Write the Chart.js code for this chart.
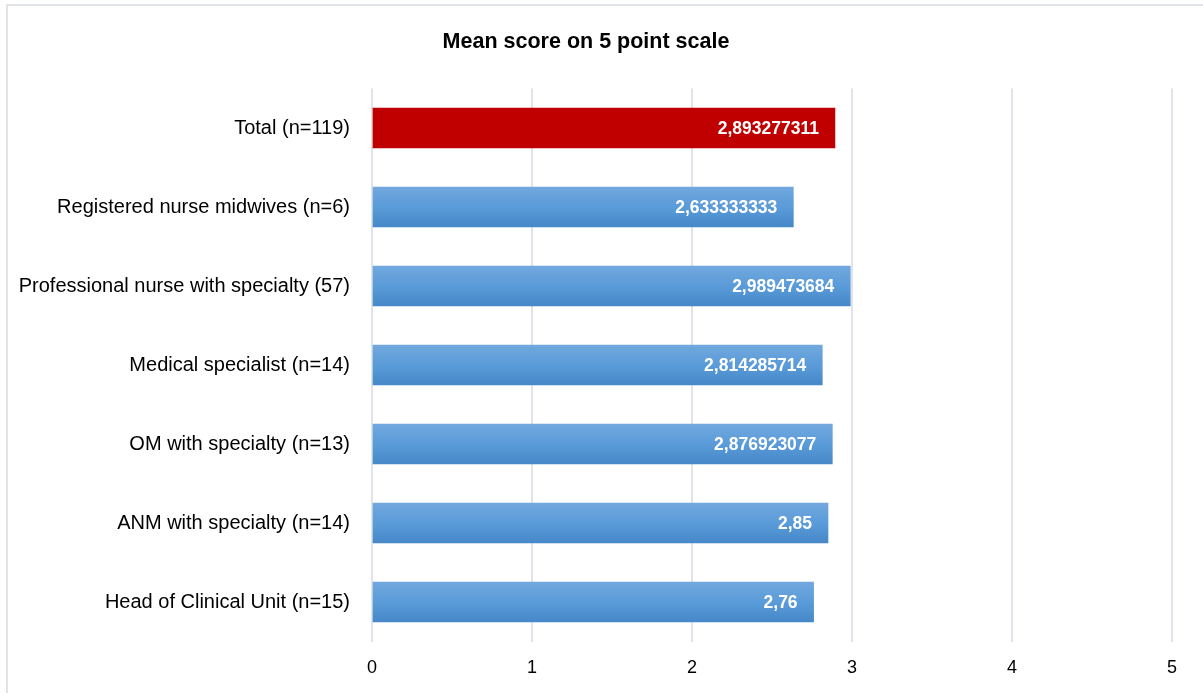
<!DOCTYPE html>
<html>
<head>
<meta charset="utf-8">
<title>Mean score on 5 point scale</title>
<script src="https://cdn.jsdelivr.net/npm/chart.js@4/dist/chart.umd.min.js"></script>
<style>
  html, body { margin: 0; padding: 0; background: #ffffff; }
  #wrap { position: relative; width: 1203px; height: 693px; }
</style>
</head>
<body>
<div id="wrap"><canvas id="chart" width="1203" height="693"></canvas></div>
<script>
// Groups of respondents, top to bottom
const categories = [
  'Total (n=119)',
  'Registered nurse midwives (n=6)',
  'Professional nurse with specialty (57)',
  'Medical specialist (n=14)',
  'OM with specialty (n=13)',
  'ANM with specialty (n=14)',
  'Head of Clinical Unit (n=15)'
];

// Mean score per group
const meanScores = [2.893277311, 2.633333333, 2.989473684, 2.814285714, 2.876923077, 2.85, 2.76];

// Axis ticks
const xTicks = [0, 1, 2, 3, 4, 5];

const FONT = "'Liberation Sans', Arial, sans-serif";

const formatValue = v => String(v).replace('.', ',');

// Frame lines at the top and left edge
const framePlugin = {
  id: 'frame',
  beforeDraw(chart) {
    const ctx = chart.ctx;
    ctx.save();
    ctx.fillStyle = '#e1e4e9';
    ctx.fillRect(6, 4, chart.width - 6, 2);
    ctx.fillRect(6, 4, 2, chart.height - 4);
    ctx.restore();
  }
};

// Vertical gradient for the blue bars; the total bar stays solid red
const gradientPlugin = {
  id: 'barGradient',
  beforeDatasetsDraw(chart) {
    const ctx = chart.ctx;
    const meta = chart.getDatasetMeta(0);
    meta.data.forEach((bar, i) => {
      if (i === 0) return;
      const h = bar.height;
      const g = ctx.createLinearGradient(0, bar.y - h / 2, 0, bar.y + h / 2);
      g.addColorStop(0, '#72a8de');
      g.addColorStop(0.5, '#5a9bd9');
      g.addColorStop(1, '#4688c8');
      bar.options.backgroundColor = g;
    });
  }
};

// Value labels inside the end of each bar
const valueLabelPlugin = {
  id: 'valueLabels',
  afterDatasetsDraw(chart) {
    const ctx = chart.ctx;
    const meta = chart.getDatasetMeta(0);
    ctx.save();
    ctx.fillStyle = '#ffffff';
    ctx.font = "bold 17.5px " + FONT;
    ctx.textAlign = 'right';
    ctx.textBaseline = 'middle';
    meta.data.forEach((bar, i) => {
      ctx.fillText(formatValue(meanScores[i]), bar.x - 16, bar.y + 1);
    });
    ctx.restore();
  }
};

new Chart(document.getElementById('chart'), {
  type: 'bar',
  data: {
    labels: categories,
    datasets: [{
      data: meanScores,
      backgroundColor: meanScores.map((v, i) => i === 0 ? '#c00000' : '#5b9bd5'),
      borderWidth: 0,
      barThickness: 40
    }]
  },
  options: {
    indexAxis: 'y',
    responsive: false,
    animation: false,
    layout: { padding: { left: 0, right: 31, top: 0, bottom: 0 } },
    plugins: {
      legend: { display: false },
      tooltip: { enabled: false },
      title: {
        display: true,
        text: 'Mean score on 5 point scale',
        color: '#000000',
        font: { family: FONT, size: 21.5, weight: 'bold' },
        padding: { top: 29, bottom: 33.7 }
      }
    },
    scales: {
      x: {
        min: 0,
        max: 5,
        afterBuildTicks(scale) { scale.ticks = xTicks.map(v => ({ value: v })); },
        afterFit(scale) { scale.height = 51.5; },
        grid: { color: '#e0e3e9', lineWidth: 2, drawTicks: false },
        border: { display: false },
        ticks: {
          color: '#000000',
          padding: 16,
          font: { family: FONT, size: 18 }
        }
      },
      y: {
        afterFit(scale) { scale.width = 372; },
        grid: { display: false, drawTicks: false },
        border: { display: false },
        ticks: {
          color: '#000000',
          padding: 22,
          font: { family: FONT, size: 20 }
        }
      }
    }
  },
  plugins: [framePlugin, gradientPlugin, valueLabelPlugin]
});
</script>
</body>
</html>
